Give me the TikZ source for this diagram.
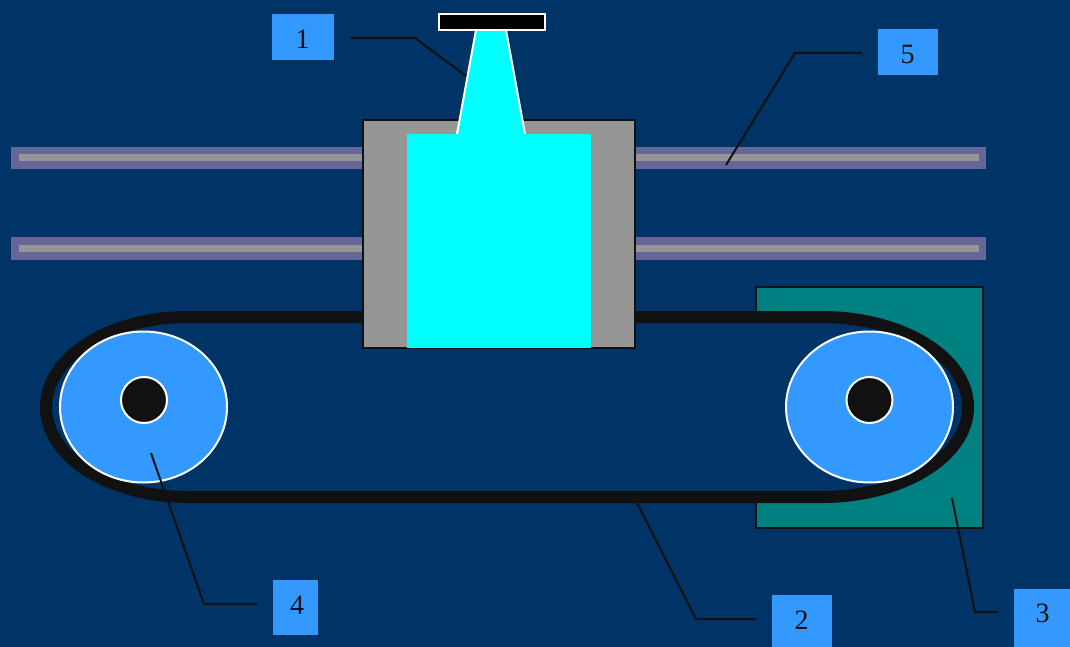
\documentclass[tikz,border=0pt]{standalone}
\usepackage{fontspec}
\setmainfont{Liberation Serif}
\usepackage{xcolor}
\usetikzlibrary{shapes.geometric}
\definecolor{bgblue}{HTML}{003366}
\definecolor{railblue}{HTML}{666699}
\definecolor{railgray}{HTML}{969696}
\definecolor{tealplate}{HTML}{008080}
\definecolor{beltblack}{HTML}{111111}
\definecolor{labelblue}{HTML}{3399FF}
\definecolor{hoppercyan}{HTML}{00FFFF}
\newcommand{\labnum}[3]{\raisebox{#2}[\height][\depth]{\hbox to 0pt{\hss\kern#1 #3\hss}}}
\tikzset{
  labelbox/.style={fill=labelblue,inner sep=0pt,font=\fontsize{28}{28}\selectfont,text=beltblack},
  wheel/.style={draw=white,fill=labelblue,ellipse,line width=2pt,inner sep=0pt,minimum width=167pt,minimum height=151pt},
  hub/.style={draw=white,fill=beltblack,circle,line width=2pt,inner sep=0pt,minimum size=46pt},
  leader/.style={draw=beltblack,line width=2pt}
}
\begin{document}
\begin{tikzpicture}[x=1pt,y=-1pt]
  \useasboundingbox (0,0) rectangle (1070,647);
  \fill[bgblue] (0,0) rectangle (1070,647);
  % rails
  \fill[railblue] (11,147) rectangle (986,169.5);
  \fill[railgray] (19,154.5) rectangle (979,161.5);
  \fill[railblue] (11,237) rectangle (986,260);
  \fill[railgray] (19,245) rectangle (979,252);
  % motor plate and belt
  \draw[fill=tealplate,draw=beltblack,line width=2pt] (756,287) rectangle (983,528);
  \draw[fill=bgblue,draw=beltblack,line width=12pt] (188,317) -- (822,317)
    .. controls (902,317) and (968,357) .. (968,407)
    .. controls (968,457) and (902,497) .. (822,497) -- (188,497)
    .. controls (110,497) and (46,457) .. (46,407)
    .. controls (46,357) and (110,317) .. (188,317) -- cycle;
  % carriage and hopper
  \draw[fill=railgray,draw=beltblack,line width=2pt] (363,120.5) rectangle (635,347.5);
  \fill[hoppercyan] (476,30) -- (457,134) -- (525,134) -- (506,30) -- cycle;
  \draw[white,line width=2pt] (476,30) -- (457,134) (506,30) -- (525,134);
  \fill[hoppercyan] (407,134) rectangle (590.5,347.5);
  \draw[fill=black,draw=white,line width=2pt] (438.5,14.5) rectangle (544.5,30.5);
  % wheels
  \node[wheel] (wheelL) at (143.5,407) {};
  \node[wheel] (wheelR) at (869.5,407) {};
  \node[hub] (hubL) at (144,400) {};
  \node[hub] (hubR) at (869.5,400) {};
  % labels
  \node[labelbox,minimum width=62pt,minimum height=46pt] (lab1) at (303,37) {\labnum{-1pt}{-2pt}{1}};
  \node[labelbox,minimum width=60pt,minimum height=52pt] (lab2) at (802,621) {\labnum{-1pt}{1pt}{2}};
  \node[labelbox,minimum width=56pt,minimum height=58pt] (lab3) at (1042,618) {\labnum{1pt}{4.5pt}{3}};
  \node[labelbox,minimum width=45pt,minimum height=55pt] (lab4) at (295.5,607.5) {\labnum{3pt}{2pt}{4}};
  \node[labelbox,minimum width=60pt,minimum height=46pt] (lab5) at (908,52) {\labnum{-1pt}{-2pt}{5}};
  % leaders
  \coordinate (bend1) at (415,38);  \coordinate (tip1) at (466,76);
  \coordinate (bend2) at (696,619); \coordinate (tip2) at (637,503);
  \coordinate (bend3) at (975,612); \coordinate (tip3) at (952,498);
  \coordinate (bend4) at (204,604); \coordinate (tip4) at (151,453);
  \coordinate (bend5) at (795,53);  \coordinate (tip5) at (726,165);
  \draw[leader] ([shift={(16,1)}]lab1.east) -- (bend1) -- (tip1);
  \draw[leader] ([shift={(-16,-2)}]lab2.west) -- (bend2) -- (tip2);
  \draw[leader] ([shift={(-16,-6)}]lab3.west) -- (bend3) -- (tip3);
  \draw[leader] ([shift={(-16,-3.5)}]lab4.west) -- (bend4) -- (tip4);
  \draw[leader] ([shift={(-16,1)}]lab5.west) -- (bend5) -- (tip5);
\end{tikzpicture}
\end{document}
